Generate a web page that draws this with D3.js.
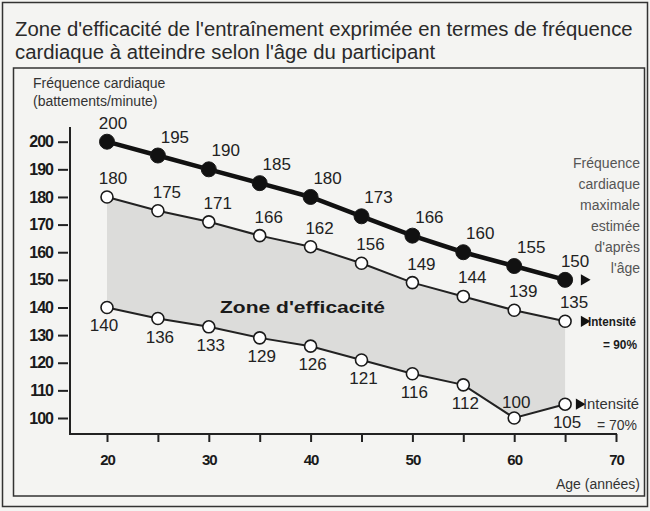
<!DOCTYPE html>
<html lang="fr">
<head>
<meta charset="utf-8">
<script src="https://cdn.jsdelivr.net/npm/d3@7"></script>
<style>
  html, body { margin: 0; padding: 0; background: #f4f4f2; }
  svg { display: block; font-family: "Liberation Sans", Arial, Helvetica, sans-serif; }
</style>
</head>
<body>
<svg id="chart" width="650" height="511"></svg>
<script>
// Âge du participant (années)
const ages = [20, 25, 30, 35, 40, 45, 50, 55, 60, 65];
// Fréquence cardiaque maximale estimée d'après l'âge
const maxHR = [200, 195, 190, 185, 180, 173, 166, 160, 155, 150];
// Intensité = 90 %
const hr90 = [180, 175, 171, 166, 162, 156, 149, 144, 139, 135];
// Intensité = 70 %
const hr70 = [140, 136, 133, 129, 126, 121, 116, 112, 100, 105];

const xTicks = [20, 25, 30, 35, 40, 45, 50, 55, 60, 65, 70];
const xTickLabels = [20, 30, 40, 50, 60, 70];
const yTicks = [100, 110, 120, 130, 140, 150, 160, 170, 180, 190, 200];

const titleLines = [
  "Zone d'efficacité de l'entraînement exprimée en termes de fréquence",
  "cardiaque à atteindre selon l'âge du participant"
];
const yAxisTitle = ["Fréquence cardiaque", "(battements/minute)"];
const maxNote = ["Fréquence", "cardiaque", "maximale", "estimée", "d'après", "l'âge"];

const svg = d3.select("#chart");
const ink = "#222";

// frames
svg.append("rect").attr("x", 2.5).attr("y", 2.5).attr("width", 645).attr("height", 504)
  .attr("fill", "none").attr("stroke", "#333").attr("stroke-width", 1.5);
svg.append("rect").attr("x", 13.5).attr("y", 68).attr("width", 631).attr("height", 428)
  .attr("fill", "none").attr("stroke", "#333").attr("stroke-width", 1.5);

// title: set in a condensed style by scaling horizontally to the wanted width
const titleG = svg.append("g");
const tNodes = titleLines.map((t, i) =>
  titleG.append("text").attr("x", 0).attr("y", 36 + i * 23)
    .attr("font-size", 21).attr("fill", "#2a2a2a").text(t));
const firstW = tNodes[0].node().getComputedTextLength();
const sx = 618 / firstW;
titleG.attr("transform", `translate(15,0) scale(${sx},1)`);

yAxisTitle.forEach((t, i) => {
  svg.append("text").attr("x", 33).attr("y", 88 + i * 18)
    .attr("font-size", 14).attr("fill", "#333").text(t);
});

// scales
const x = d3.scaleLinear().domain([20, 70]).range([107, 616]);
const y = d3.scaleLinear().domain([100, 200]).range([418, 141.7]);
const axisY = 434;

// efficiency zone shading
const zone = d3.area()
  .x((d, i) => x(ages[i]))
  .y0((d, i) => y(hr70[i]))
  .y1((d, i) => y(hr90[i]));
svg.append("path").datum(ages).attr("d", zone)
  .attr("fill", "#dcdcda");

svg.append("text").attr("x", 220).attr("y", 313)
  .attr("font-size", 17).attr("font-weight", "bold").attr("fill", "#1a1a1a")
  .attr("textLength", 165).attr("lengthAdjust", "spacingAndGlyphs")
  .text("Zone d'efficacité");

// axes
const yAxis = d3.axisLeft(y).tickValues(yTicks).tickSize(10).tickPadding(5);
const gy = svg.append("g").attr("transform", "translate(68,0)").call(yAxis);
gy.select(".domain").remove();
gy.selectAll(".tick line").attr("stroke", ink).attr("stroke-width", 2);
gy.selectAll(".tick text").attr("font-size", 16).attr("font-weight", "bold")
  .attr("letter-spacing", "-1").attr("fill", "#1a1a1a")
  .attr("font-family", "'Liberation Sans', Arial, sans-serif");

svg.append("line").attr("x1", 70).attr("x2", 70).attr("y1", 127).attr("y2", axisY)
  .attr("stroke", ink).attr("stroke-width", 2);

const xAxis = d3.axisBottom(x).tickValues(xTicks).tickSize(8).tickPadding(12)
  .tickFormat(d => xTickLabels.includes(d) ? d : "");
const gx = svg.append("g").attr("transform", `translate(0,${axisY})`).call(xAxis);
gx.select(".domain").remove();
gx.selectAll(".tick line").attr("stroke", ink).attr("stroke-width", 2);
gx.selectAll(".tick text").attr("font-size", 15).attr("font-weight", "bold")
  .attr("letter-spacing", "-1").attr("fill", "#1a1a1a")
  .attr("font-family", "'Liberation Sans', Arial, sans-serif");

svg.append("line").attr("x1", 69).attr("x2", 617).attr("y1", axisY).attr("y2", axisY)
  .attr("stroke", ink).attr("stroke-width", 2);

svg.append("text").attr("x", 640).attr("y", 489).attr("text-anchor", "end")
  .attr("font-size", 14).attr("fill", "#333").text("Age (années)");

// series lines
const line = vals => d3.line().x((d, i) => x(ages[i])).y((d, i) => y(vals[i]))(vals);

svg.append("path").attr("d", line(hr70)).attr("fill", "none").attr("stroke", ink).attr("stroke-width", 2);
svg.append("path").attr("d", line(hr90)).attr("fill", "none").attr("stroke", ink).attr("stroke-width", 2);
svg.append("path").attr("d", line(maxHR)).attr("fill", "none").attr("stroke", "#111").attr("stroke-width", 4.5);

// markers
function dots(vals, r, fill, sw) {
  svg.append("g").selectAll("circle").data(vals).join("circle")
    .attr("cx", (d, i) => x(ages[i])).attr("cy", d => y(d)).attr("r", r)
    .attr("fill", fill).attr("stroke", "#1a1a1a").attr("stroke-width", sw);
}
dots(hr70, 6, "#fff", 1.6);
dots(hr90, 6, "#fff", 1.6);
dots(maxHR, 7.5, "#111", 1);

// value labels; a label that would run into the x axis goes above its point
function labels(vals, dx, dy) {
  svg.append("g").selectAll("text").data(vals).join("text")
    .attr("x", (d, i) => x(ages[i]) + dx(i))
    .attr("y", d => (y(d) + dy > axisY - 4 ? y(d) - 10 : y(d) + dy))
    .attr("text-anchor", "middle").attr("font-size", 17).attr("fill", "#222")
    .text(d => d);
}
const n = ages.length;
labels(maxHR, i => (i === 0 ? 6 : i === n - 1 ? 10 : 17), -13);
labels(hr90, i => (i === 0 ? 6 : 9), -13);
labels(hr70, i => (i === 0 ? -3 : 2), 24);

// end-of-line markers and notes
const tri = d3.symbol().type(d3.symbolTriangle).size(55);
[[maxHR, 19], [hr90, 19], [hr70, 14]].forEach(([vals, off]) => {
  const last = vals[vals.length - 1];
  svg.append("path").attr("d", tri)
    .attr("transform", `translate(${x(65) + off},${y(last)}) rotate(90)`)
    .attr("fill", "#111");
});

maxNote.forEach((t, i) => {
  svg.append("text").attr("x", 640).attr("y", 168 + i * 21).attr("text-anchor", "end")
    .attr("font-size", 14).attr("fill", "#555").text(t);
});

svg.append("text").attr("x", 588).attr("y", y(135) + 5)
  .attr("font-size", 13).attr("font-weight", "bold").attr("fill", "#1a1a1a")
  .attr("textLength", 48).attr("lengthAdjust", "spacingAndGlyphs").text("Intensité");
svg.append("text").attr("x", 637).attr("y", y(135) + 28).attr("text-anchor", "end")
  .attr("font-size", 13).attr("font-weight", "bold").attr("fill", "#1a1a1a")
  .attr("textLength", 34).attr("lengthAdjust", "spacingAndGlyphs").text("= 90%");

svg.append("text").attr("x", 583).attr("y", y(105) + 5)
  .attr("font-size", 14).attr("fill", "#333")
  .attr("textLength", 56).attr("lengthAdjust", "spacingAndGlyphs").text("Intensité");
svg.append("text").attr("x", 637).attr("y", y(105) + 26).attr("text-anchor", "end")
  .attr("font-size", 14).attr("fill", "#333").text("= 70%");
</script>
</body>
</html>
